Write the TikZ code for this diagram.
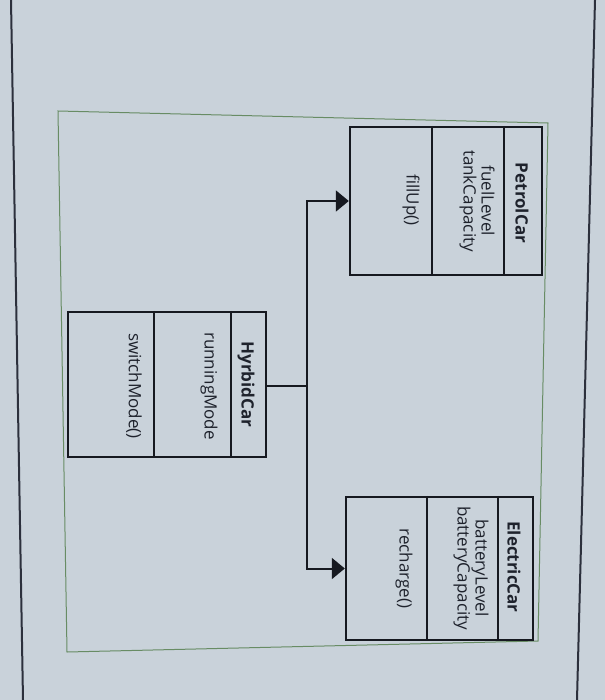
\documentclass[tikz,border=0pt]{standalone}
\usepackage{fontspec}
\setmainfont{Open Sans}
\usetikzlibrary{arrows.meta}
\definecolor{screen}{RGB}{201,210,218}
\definecolor{ink}{RGB}{22,25,32}
\definecolor{txt}{RGB}{30,34,44}
\definecolor{frame}{RGB}{104,140,100}
\definecolor{edge}{RGB}{44,48,60}
\tikzset{
  classbox/.style={draw=ink, line width=2.4bp, inner sep=0pt},
  divider/.style={draw=ink, line width=2.4bp},
  lbl/.style={rotate=-90, text=txt, inner sep=0pt, align=center,
    font=\fontsize{17bp}{18bp}\selectfont},
  namelbl/.style={lbl, font=\fontsize{17bp}{18bp}\selectfont\bfseries},
  conn/.style={draw=ink, line width=2bp},
  arr/.style={conn, -{Triangle[length=13bp, width=21bp]}},
}
\begin{document}
\begin{tikzpicture}[x=1bp, y=-1bp]
\useasboundingbox (0,0) rectangle (605,700);
\fill[screen] (0,0) rectangle (605,700);
% screen window edges
\draw[edge, line width=2bp] (11,0) -- (23,700);
\draw[edge, line width=2bp] (595,0) -- (577,700);
% green diagram frame
\draw[frame, line width=1bp] (58,111) -- (548,123) -- (538,641) -- (67,652) -- cycle;

% PetrolCar
\node[classbox, minimum width=192bp, minimum height=148bp] (pc) at (446,201) {};
\draw[divider] ([xshift=-39bp]pc.north east) -- ([xshift=-39bp]pc.south east);
\draw[divider] ([xshift=-111bp]pc.north east) -- ([xshift=-111bp]pc.south east);
\node[namelbl] (pcn) at (522,203) {PetrolCar};
\node[lbl] (pca) at (477,201) {fuelLevel\\tankCapacity};
\node[lbl] (pcm) at (411,200) {fillUp()};

% HyrbidCar
\node[classbox, minimum width=198bp, minimum height=145bp] (hc) at (167,384.5) {};
\draw[divider] ([xshift=-36bp]hc.north east) -- ([xshift=-36bp]hc.south east);
\draw[divider] ([xshift=-113bp]hc.north east) -- ([xshift=-113bp]hc.south east);
\node[namelbl] (hcn) at (246,384.5) {HyrbidCar};
\node[lbl] (hca) at (209,386) {runningMode};
\node[lbl] (hcm) at (134,386) {switchMode()};

% ElectricCar
\node[classbox, minimum width=187bp, minimum height=143bp] (ec) at (439.5,568.5) {};
\draw[divider] ([xshift=-36bp]ec.north east) -- ([xshift=-36bp]ec.south east);
\draw[divider] ([xshift=-107bp]ec.north east) -- ([xshift=-107bp]ec.south east);
\node[namelbl] (ecn) at (514,567) {ElectricCar};
\node[lbl] (eca) at (471,568) {batteryLevel\\batteryCapacity};
\node[lbl] (ecm) at (404,568.5) {recharge()};

% connectors
\coordinate (j) at (307,386);
\draw[conn] (hc.east |- j) -- (j);
\draw[arr] (j) |- (pc.west);
\draw[arr] (j) |- (ec.west);
\end{tikzpicture}
\end{document}
